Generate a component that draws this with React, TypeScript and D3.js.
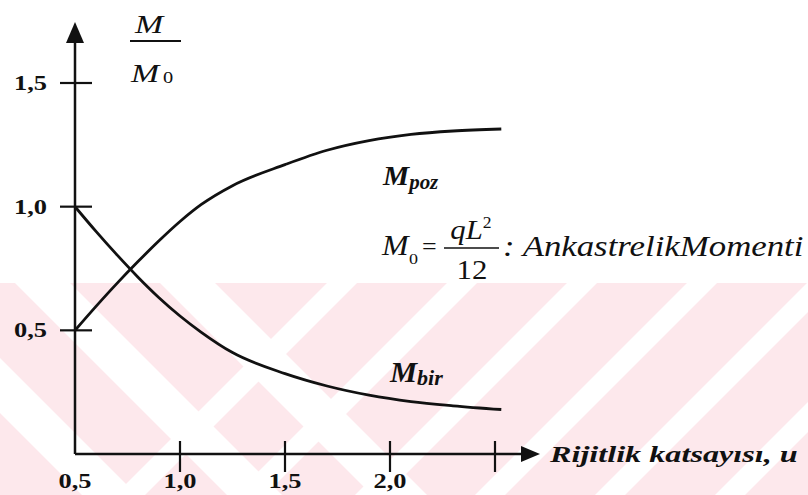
import React from "react";
import * as d3 from "d3";

const W = 808;
const H = 495;

// Stiffness coefficient u and normalized moments M / M0
const uValues = [0.5, 0.6, 0.7, 0.8, 0.9, 1.0, 1.1, 1.25, 1.5, 1.7, 1.9, 2.1, 2.3, 2.53];
const mPoz = [0.5, 0.597, 0.69, 0.778, 0.862, 0.94, 1.008, 1.085, 1.17, 1.228, 1.267, 1.292, 1.306, 1.314];
const mBir = [1.0, 0.9, 0.805, 0.715, 0.632, 0.558, 0.493, 0.41, 0.325, 0.275, 0.238, 0.212, 0.195, 0.18];

const yTickValues = [0.5, 1.0, 1.5];
const yTickLabels = ["0,5", "1,0", "1,5"];
const xTickValues = [1.0, 1.5, 2.0, 2.5];
const xLabelValues = [0.5, 1.0, 1.5, 2.0];
const xLabelTexts = ["0,5", "1,0", "1,5", "2,0"];

const SERIF = "Liberation Serif";
const INK = "#111";

function Stretched({ x, y, sx = 1.2, anchor = "start", children, ...rest }: any) {
  return (
    <text
      transform={`translate(${x},${y}) scale(${sx},1)`}
      textAnchor={anchor}
      fontFamily={SERIF}
      fill={INK}
      {...rest}
    >
      {children}
    </text>
  );
}

export default function App() {
  const x = d3.scaleLinear().domain([0.5, 2.5]).range([75, 495]);
  const y = d3.scaleLinear().domain([0, 1.5]).range([454, 83]);

  const line = d3
    .line<number>()
    .x((_, i) => x(uValues[i]))
    .y((d) => y(d))
    .curve(d3.curveMonotoneX);

  const x0 = x(0.5);
  const y0 = y(0);
  const xEnd = 540;
  const yTop = 22;

  // light watermark stripes in the lower band
  const pinkTop = 283;
  const backSlash = [68, 213, 358]; // y - x = c
  const fwdSlash = [610, 730, 850, 970, 1090, 1210]; // x + y = k
  const bandW = 55;
  const fwdW = 30;

  return (
    <svg width={W} height={H} style={{ display: "block", position: "absolute", left: 0, top: 0 }}>
      <defs>
        <clipPath id="lowerBand">
          <rect x={0} y={pinkTop} width={W} height={H - pinkTop} />
        </clipPath>
      </defs>
      <rect x={0} y={0} width={W} height={H} fill="#ffffff" />
      <g clipPath="url(#lowerBand)">
        <rect x={0} y={pinkTop} width={W} height={H - pinkTop} fill="#fde8ec" />
        {backSlash.map((c, i) => (
          <polygon
            key={"b" + i}
            points={`${pinkTop - c - bandW},${pinkTop} ${pinkTop - c},${pinkTop} ${H - c},${H} ${H - c - bandW},${H}`}
            fill="#ffffff"
          />
        ))}
        {fwdSlash.map((k, i) => (
          <polygon
            key={"f" + i}
            points={`${k - pinkTop},${pinkTop} ${k + fwdW - pinkTop},${pinkTop} ${k + fwdW - H},${H} ${k - H},${H}`}
            fill="#ffffff"
          />
        ))}
      </g>

      {/* axes */}
      <g stroke={INK} strokeWidth={2.5} fill="none">
        <line x1={x0} y1={y0} x2={x0} y2={yTop + 18} />
        <line x1={x0} y1={y0} x2={xEnd - 16} y2={y0} />
      </g>
      <polygon points={`${x0},${yTop} ${x0 - 9},${yTop + 21} ${x0 + 9},${yTop + 21}`} fill={INK} />
      <polygon points={`${xEnd},${y0} ${xEnd - 19},${y0 - 8} ${xEnd - 19},${y0 + 8}`} fill={INK} />

      {yTickValues.map((v, i) => (
        <g key={"yt" + i}>
          <line x1={x0 - 15} x2={x0 + 17} y1={y(v)} y2={y(v)} stroke={INK} strokeWidth={2.2} />
          <Stretched x={47} y={y(v) + 7} anchor="end" fontSize={22} fontWeight="bold">
            {yTickLabels[i]}
          </Stretched>
        </g>
      ))}
      {xTickValues.map((v, i) => (
        <line key={"xt" + i} x1={x(v)} x2={x(v)} y1={y0 - 13} y2={y0 + 18} stroke={INK} strokeWidth={2.2} />
      ))}
      {xLabelValues.map((v, i) => (
        <Stretched key={"xl" + i} x={x(v)} y={488} anchor="middle" fontSize={22} fontWeight="bold">
          {xLabelTexts[i]}
        </Stretched>
      ))}

      {/* curves */}
      <path d={line(mPoz) || ""} fill="none" stroke={INK} strokeWidth={2.8} />
      <path d={line(mBir) || ""} fill="none" stroke={INK} strokeWidth={2.8} />

      {/* y axis title M / M0 */}
      <Stretched x={149} y={33} sx={1.3} anchor="middle" fontSize={26} fontStyle="italic">
        M
      </Stretched>
      <line x1={130} x2={181} y1={41} y2={41} stroke={INK} strokeWidth={1.8} />
      <Stretched x={131} y={82} sx={1.3} fontSize={26} fontStyle="italic">
        M
      </Stretched>
      <Stretched x={163} y={83} fontSize={17}>
        0
      </Stretched>

      {/* curve names */}
      <Stretched x={383} y={185} sx={1.05} fontSize={28} fontStyle="italic" fontWeight="bold">
        M
        <tspan fontSize={20} dy={4}>poz</tspan>
      </Stretched>
      <Stretched x={390} y={382} sx={1.05} fontSize={29} fontStyle="italic" fontWeight="bold">
        M
        <tspan fontSize={21} dy={3}>bir</tspan>
      </Stretched>

      {/* reference moment definition */}
      <Stretched x={382} y={255} sx={1.1} fontSize={29} fontStyle="italic">
        M
      </Stretched>
      <Stretched x={409} y={264} fontSize={15}>
        0
      </Stretched>
      <Stretched x={422} y={255} sx={1.0} fontSize={26}>
        =
      </Stretched>
      <Stretched x={471} y={239} anchor="middle" sx={1.1} fontSize={28} fontStyle="italic">
        qL
        <tspan fontSize={16} fontStyle="normal" dy={-11}>2</tspan>
      </Stretched>
      <line x1={444} x2={499} y1={248} y2={248} stroke={INK} strokeWidth={1.6} />
      <Stretched x={472} y={279} anchor="middle" sx={1.1} fontSize={28}>
        12
      </Stretched>
      <Stretched x={503} y={256} sx={1.2} fontSize={29} fontStyle="italic">
        : AnkastrelikMomenti
      </Stretched>

      {/* x axis title */}
      <Stretched x={550} y={462} sx={1.4} fontSize={23} fontStyle="italic" fontWeight="bold">
        Rijitlik katsayısı, u
      </Stretched>
    </svg>
  );
}
